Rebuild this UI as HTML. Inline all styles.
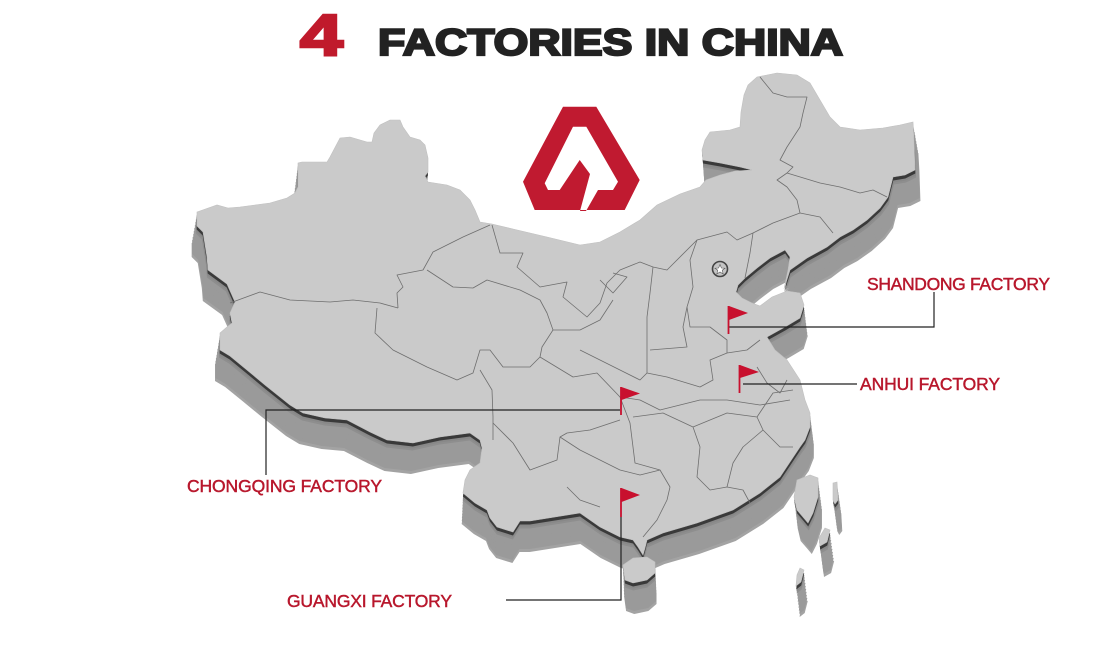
<!DOCTYPE html>
<html><head><meta charset="utf-8"><style>
html,body{margin:0;padding:0;background:#fff;width:1108px;height:666px;overflow:hidden}
svg{display:block}
</style></head><body>
<svg width="1108" height="666" viewBox="0 0 1108 666" xmlns="http://www.w3.org/2000/svg">
<defs>
<g id="land">
<path d="M197,212 L217,205 L228,208 L240,207 L270,203 L287,198 L295,193 L298,187 L298,163 L302,162 L327,162 L330,157 L340,138 L350,137 L367,142 L372,142 L374,133 L380,125 L390,120 L400,120 L403,127 L410,137 L420,140 L425,145 L428,158 L428,172 L425,176 L428,182 L447,185 L460,190 L470,200 L475,210 L480,222 L492,224 L513,229 L547,237 L580,245 L600,242 L620,232 L640,220 L657,205 L680,194 L700,187 L706,180 L720,175 L735,171 L752,170 L740,167 L720,163 L703,160 L702,150 L705,140 L710,132 L730,130 L740,127 L741,112 L744,95 L748,85 L757,77 L777,73 L797,75 L810,83 L820,100 L830,117 L840,127 L860,130 L883,128 L900,125 L913,122 L914,140 L915,170 L905,175 L893,177 L888,197 L880,208 L867,220 L853,230 L840,237 L827,247 L807,258 L790,270 L784,289 L788,270 L790,257 L785,250 L770,258 L757,268 L745,278 L738,285 L736,292 L742,298 L752,303 L760,306 L772,297 L787,291 L800,293 L804,305 L800,318 L785,327 L767,337 L775,350 L787,360 L800,380 L805,400 L810,413 L810,427 L805,440 L800,447 L790,462 L780,477 L760,493 L733,510 L697,523 L663,533 L647,540 L645,548 L643,555 L638,547 L633,540 L620,537 L600,527 L580,513 L555,517 L530,521 L520,521 L513,532 L497,527 L490,518 L487,510 L475,503 L463,493 L465,480 L470,470 L480,463 L482,448 L480,440 L470,433 L440,437 L413,443 L387,440 L370,432 L347,420 L325,418 L303,413 L290,405 L280,397 L265,385 L247,370 L230,356 L220,350 L220,333 L227,327 L232,323 L230,313 L235,302 L227,284 L208,270 L207,257 L203,232 L197,226 Z"/>
<path d="M623,565 L633,558 L647,557 L655,562 L655,573 L647,580 L633,583 L625,580 Z"/>
<path d="M797,480 L810,475 L818,478 L818,497 L813,513 L808,523 L803,517 L797,510 L794,497 Z"/>
<path d="M833,483 L837,482 L838,500 L835,504 L833,500 Z"/>
<path d="M825,528 L830,530 L827,542 L820,546 L819,538 Z"/>
<path d="M800,568 L804,570 L801,582 L796,586 L797,575 Z"/>
</g>
</defs>

<!-- side extrusion -->
<g fill="#9a9a9a">
<use href="#land" transform="translate(-8.3,31) scale(1.015,1)" fill="#a3a3a3"/>
<use href="#land" transform="translate(-7.5,28) scale(1.0135,1)"/>
<use href="#land" transform="translate(-6.7,25) scale(1.012,1)"/>
<use href="#land" transform="translate(-5.8,22) scale(1.0105,1)"/>
<use href="#land" transform="translate(-5,19) scale(1.009,1)"/>
<use href="#land" transform="translate(-4.2,16) scale(1.0075,1)"/>
<use href="#land" transform="translate(-3.3,13) scale(1.006,1)"/>
<use href="#land" transform="translate(-2.5,10) scale(1.0045,1)"/>
<use href="#land" transform="translate(-1.7,7.5) scale(1.003,1)" fill="#8e8e8e"/>
<use href="#land" transform="translate(-1,5.5) scale(1.0018,1)" fill="#888"/>
</g>
<use href="#land" transform="translate(-0.5,3.5) scale(1.0009,1)" fill="#3a3a3a"/>
<use href="#land" fill="#cacaca" stroke="#c0c0c0" stroke-width="0.6"/>

<!-- internal borders -->
<g fill="none" stroke="#6e6e6e" stroke-width="0.8" stroke-linejoin="round">
<polyline points="230,303 260,292 290,300 330,302 353,300 380,303 398,308"/>
<polyline points="398,308 397,293 403,287 397,275 423,270 433,252 463,237 490,225"/>
<polyline points="427,270 453,287 473,288 487,280 520,290 540,300 547,313 553,330 542,347 540,357"/>
<polyline points="492,225 500,253 523,253 517,267 540,287 567,282 563,297 587,317 600,303 607,283 620,270 640,262 653,267 667,270 697,240 727,232 737,240 753,233 773,223 800,213 820,217 833,233"/>
<polyline points="377,308 375,333 393,350 427,367 457,380 473,373 480,350 490,350 503,367 530,367 540,357"/>
<polyline points="480,370 492,390 493,417 493,440"/>
<polyline points="540,357 573,377 597,373 620,397 630,423 635,463 660,470 670,487 667,500 657,520 643,537"/>
<polyline points="493,423 513,443 530,470 557,460 560,437 567,433 590,430 620,420"/>
<polyline points="567,487 580,500 600,507"/>
<polyline points="633,417 663,413 693,427 700,447 697,477 710,490 727,487 743,490 750,503"/>
<polyline points="693,427 727,413 757,417 763,430 743,447 733,463 727,487"/>
<polyline points="757,417 773,393 793,390"/>
<polyline points="763,430 780,447 793,447"/>
<polyline points="760,77 773,93 787,97 807,97 803,113 800,127 787,147 780,160 793,167 787,173 777,180 787,187 797,200 800,213"/>
<polyline points="787,173 820,183 840,187 860,193 873,190 887,197"/>
<polyline points="753,233 750,253 745,278"/>
<polyline points="697,240 690,260 693,287 687,307 690,327 710,327 727,340 727,353 747,350 760,340"/>
<polyline points="653,267 650,293 647,317 647,350 647,373 667,377 700,387 713,380 710,360 727,353"/>
<polyline points="687,307 683,327 687,347 650,350"/>
<polyline points="757,367 767,383 780,393 787,380"/>
<polyline points="600,280 613,293 627,277 613,273"/>
<polyline points="620,397 640,400 660,410 700,400 727,400 760,405 790,400"/>
<polyline points="560,437 580,450 600,460 620,470 640,475 660,470"/>
<polyline points="580,350 600,360 620,370 640,380 647,373"/>
<polyline points="553,330 580,330 600,320 613,300"/>
</g>
<!-- Beijing -->
<circle cx="720" cy="269" r="7.5" fill="#c4c4c4" stroke="#444" stroke-width="1.6"/>
<polygon points="720,264.5 721.4,268 725,268.2 722.2,270.3 723.2,274 720,272 716.8,274 717.8,270.3 715,268.2 718.6,268" fill="#fff" stroke="#555" stroke-width="0.6"/>

<!-- logo -->
<path fill-rule="evenodd" fill="#c01a30" d="M563,106.7 L596.3,106.7 L639.7,180 L624.7,210 L534.7,210 L523,181.7 Z M573,126.7 L586.3,126.7 L618,181.7 L613,190 L598,190 L586,211 L580,211 L590,174 L579.7,160 L559.7,190 L548,190 L544.7,183.3 Z"/>

<!-- title -->
<text x="300" y="55" font-family="Liberation Sans, Arial, sans-serif" font-weight="bold" font-size="58" fill="#c01a2c" stroke="#c01a2c" stroke-width="2.6" textLength="43" lengthAdjust="spacingAndGlyphs">4</text>
<text x="378" y="55" font-family="Liberation Sans, Arial, sans-serif" font-weight="bold" font-size="37" fill="#222" stroke="#222" stroke-width="2.2" textLength="465" lengthAdjust="spacingAndGlyphs">FACTORIES IN CHINA</text>

<!-- leader lines -->
<g fill="none" stroke="#222" stroke-width="1.2">
<polyline points="728,327 934,327 934,292"/>
<polyline points="743,384 857,384"/>
<polyline points="620,410 266,410 266,475"/>
<polyline points="621,517 621,600 506,600"/>
</g>

<!-- flags -->
<g fill="#c8102e" stroke="#c8102e">
<line x1="728.5" y1="306" x2="728.5" y2="334" stroke-width="1.8"/>
<polygon points="729,306 748,313 729,320" stroke="none"/>
<line x1="739.5" y1="365" x2="739.5" y2="393" stroke-width="1.8"/>
<polygon points="740,365 759,372 740,378" stroke="none"/>
<line x1="621" y1="387" x2="621" y2="415" stroke-width="1.8"/>
<polygon points="621.5,387 640,393.5 621.5,400" stroke="none"/>
<line x1="621" y1="488" x2="621" y2="517" stroke-width="1.8"/>
<polygon points="621.5,488 640,495 621.5,502" stroke="none"/>
</g>

<!-- labels -->
<g font-family="Liberation Sans, Arial, sans-serif" font-size="17.5" fill="#b8172c" stroke="#b8172c" stroke-width="0.45" lengthAdjust="spacingAndGlyphs">
<text x="867" y="290" textLength="183">SHANDONG FACTORY</text>
<text x="860" y="390" textLength="140">ANHUI FACTORY</text>
<text x="187" y="492" textLength="195">CHONGQING FACTORY</text>
<text x="287" y="607" textLength="165">GUANGXI FACTORY</text>
</g>
</svg>
</body></html>
